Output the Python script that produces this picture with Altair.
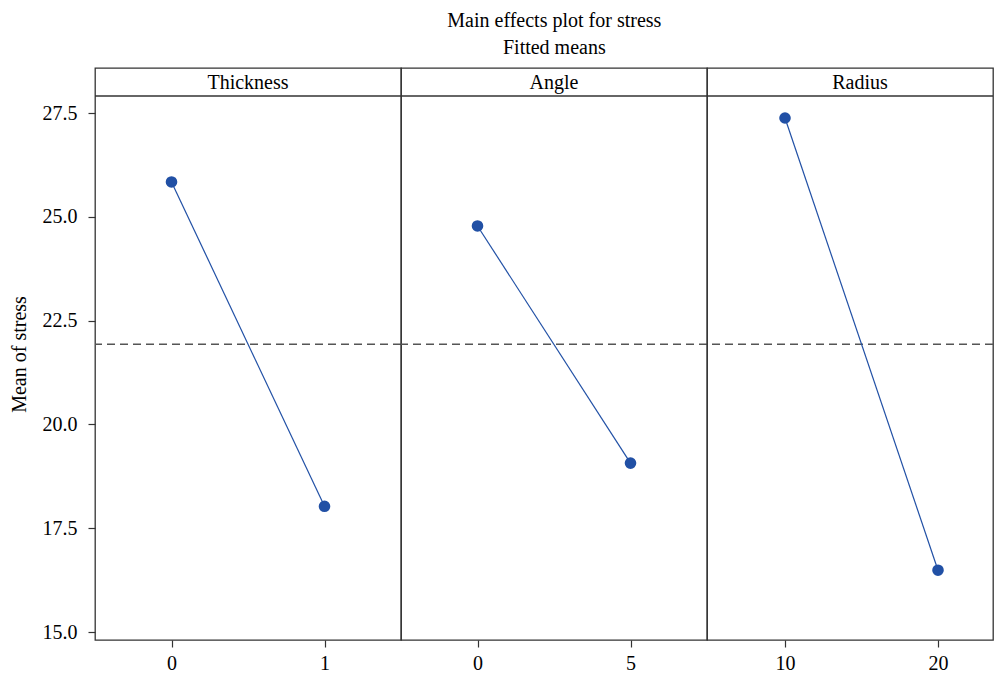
import altair as alt
import pandas as pd

# Data
factors = ["Thickness", "Thickness", "Angle", "Angle", "Radius", "Radius"]
levels = ["0", "1", "0", "5", "10", "20"]
fitted_means = [25.84, 18.03, 24.78, 19.07, 27.38, 16.49]
panel_order = ["Thickness", "Angle", "Radius"]
y_ticks = [15.0, 17.5, 20.0, 22.5, 25.0, 27.5]

df = pd.DataFrame({"factor": factors, "level": levels, "stress": fitted_means})

H = 572
FONT = "Liberation Serif"
FS = 20
BLUE = "#2150a5"
FRAME = "#333333"
Y_MIN, Y_MAX = 14.81, 28.584
HEADER_Y = 27.91
# panel widths and point-scale settings (last panel is cut by the page edge)
panel_w = [306, 306, 286]
panel_pad = [0.5, 0.5, 0.4346]
panel_align = [0.5, 0.5, 0.5865]


def panel(i, name):
    W = panel_w[i]
    first = i == 0
    sub = alt.Chart(df).transform_filter(alt.datum.factor == name)
    if first:
        yax = alt.Axis(values=y_ticks, format=".1f", title="Mean of stress",
                       domain=False, titlePadding=13, labelPadding=11)
    else:
        yax = None
    y_scale = alt.Scale(domain=[Y_MIN, Y_MAX], nice=False, zero=False)
    x = alt.X("level:O", sort=None,
              scale=alt.Scale(type="point", padding=panel_pad[i], align=panel_align[i]),
              axis=alt.Axis(title=None, labelAngle=0, domain=False))
    y = alt.Y("stress:Q", scale=y_scale, axis=yax)
    line = sub.mark_line(color=BLUE, strokeWidth=1.2).encode(x=x, y=y)
    pts = sub.mark_circle(color=BLUE, size=135, opacity=1).encode(x=x, y=y)
    mean_rule = alt.Chart(df).mark_rule(strokeDash=[8, 5], color="#555",
                                        strokeWidth=1.3).encode(
        y=alt.Y("mean(stress):Q", scale=y_scale, axis=yax))
    hdr = alt.Chart(pd.DataFrame({"name": [name]}))
    header_rule = hdr.mark_rule(color=FRAME, strokeWidth=1.3).encode(
        y=alt.Y(datum=HEADER_Y, scale=y_scale, axis=yax))
    header_text = hdr.mark_text(font=FONT, fontSize=FS, color="black",
                                baseline="middle", align="center", dy=1).encode(
        x=alt.value(153),
        y=alt.Y(datum=(HEADER_Y + Y_MAX) / 2, scale=y_scale, axis=yax),
        text="name:N")
    return alt.layer(mean_rule, line, pts, header_rule, header_text).properties(
        width=W, height=H)


chart = alt.hconcat(*[panel(i, n) for i, n in enumerate(panel_order)],
                    spacing=0, bounds="flush").properties(
    padding={"left": 0, "top": 3, "right": 0, "bottom": 0},
    title=alt.TitleParams("Main effects plot for stress", subtitle="Fitted means",
                          font=FONT, fontSize=FS, fontWeight="normal",
                          subtitleFont=FONT, subtitleFontSize=FS,
                          color="black", subtitleColor="black",
                          anchor="middle", offset=9, subtitlePadding=7, dx=53)
).configure_view(stroke=FRAME, strokeWidth=1.3).configure_axis(
    labelFont=FONT, labelFontSize=FS, labelColor="black",
    titleFont=FONT, titleFontSize=FS, titleColor="black", titleFontWeight="normal",
    tickColor=FRAME, tickSize=7, tickWidth=1.2, labelPadding=6, grid=False
)

chart.save("out.html", embed_options={"renderer": "svg", "actions": False})
